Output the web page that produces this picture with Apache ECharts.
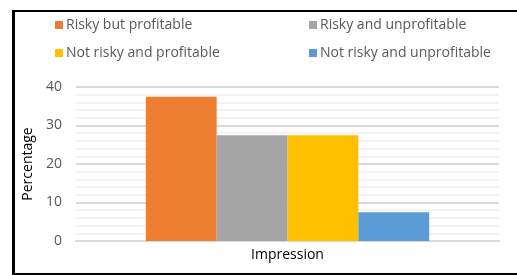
<!DOCTYPE html>
<html>
<head>
<meta charset="utf-8">
<script src="https://cdn.jsdelivr.net/npm/echarts@6/dist/echarts.min.js"></script>
<style>
  html, body { margin: 0; padding: 0; background: #fff; }
  #chart { width: 517px; height: 275px; position: absolute; left: 0; top: 0; }
  .frame {
    position: absolute; left: 12px; top: 10px; width: 520px; height: 261px;
    border: 2px solid #000; border-left-width: 3px; pointer-events: none;
  }
</style>
</head>
<body>
<div id="chart"></div>
<div class="frame"></div>
<script>
// data
const categories = ['Impression']
const seriesNames = [
  'Risky but profitable',
  'Risky and unprofitable',
  'Not risky and profitable',
  'Not risky and unprofitable'
]
const seriesValues = [37.5, 27.5, 27.5, 7.5]
const colors = ['#ed7d31', '#a5a5a5', '#ffc000', '#5b9bd5']

const font = 'Open Sans'
const chart = echarts.init(document.getElementById('chart'))

// legend laid out as 2 columns x 2 rows
const legendPos = [
  { left: 55, top: 18 },
  { left: 309, top: 18 },
  { left: 55, top: 46 },
  { left: 309, top: 46 }
]

const option = {
  animation: false,
  color: colors,
  legend: seriesNames.map((name, i) => ({
    data: [name],
    left: legendPos[i].left,
    top: legendPos[i].top,
    padding: 0,
    icon: 'rect',
    itemWidth: 8,
    itemHeight: 8,
    itemGap: 0,
    textStyle: { fontFamily: font, fontSize: 14, color: '#595959', padding: [0, 0, 0, -2] }
  })),
  grid: { left: 76, right: 18, top: 87, bottom: 34 },
  xAxis: {
    type: 'category',
    data: categories,
    axisLine: { show: true, lineStyle: { color: '#d9d9d9', width: 2 } },
    axisTick: { show: false },
    axisLabel: { fontFamily: font, fontSize: 14, color: '#000', margin: 7 }
  },
  yAxis: {
    type: 'value',
    min: 0,
    max: 40,
    interval: 10,
    name: 'Percentage',
    nameLocation: 'middle',
    nameGap: 40,
    nameRotate: 90,
    nameTextStyle: { fontFamily: font, fontSize: 14, color: '#000' },
    axisLine: { show: false },
    axisTick: { show: false },
    axisLabel: { fontFamily: font, fontSize: 14, color: '#595959', margin: 14 },
    splitLine: { lineStyle: { color: '#d9d9d9', width: 2 } },
    minorTick: { show: false, splitNumber: 5 },
    minorSplitLine: { show: true, lineStyle: { color: '#efefef', width: 1.5 } }
  },
  series: seriesNames.map((name, i) => ({
    name,
    type: 'bar',
    data: [seriesValues[i]],
    barGap: '0%',
    barCategoryGap: '33%'
  }))
}

chart.setOption(option)
</script>
</body>
</html>
